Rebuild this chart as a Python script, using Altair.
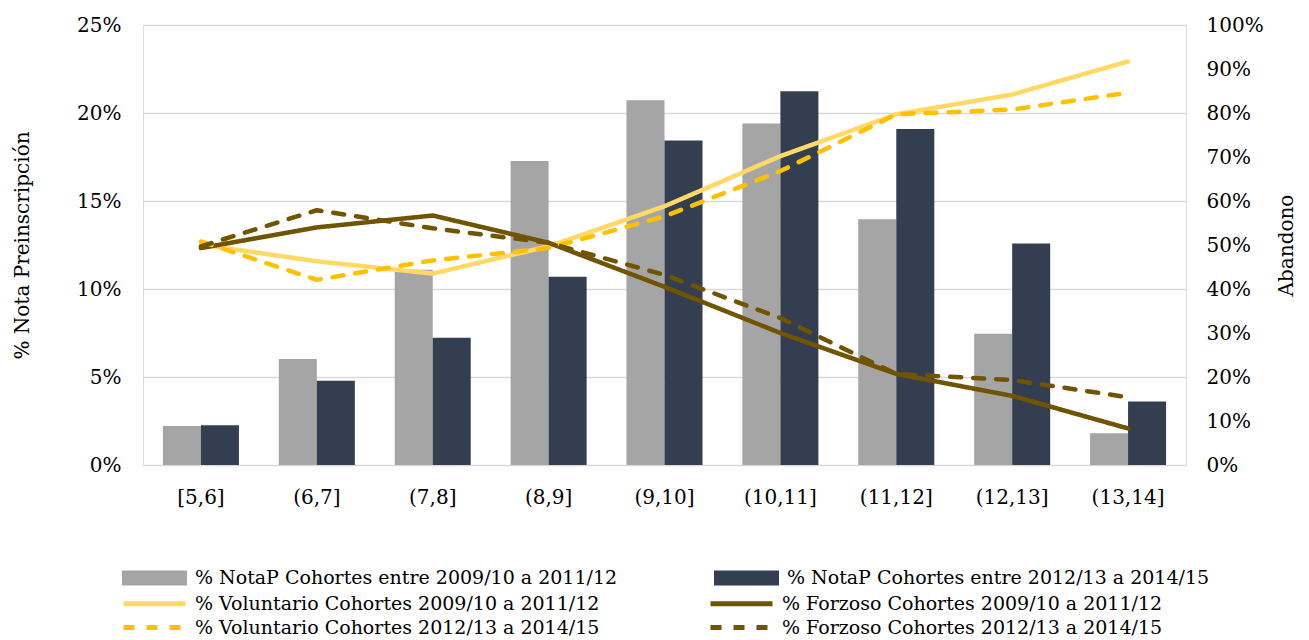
import altair as alt
import pandas as pd

categories = ["[5,6]", "(6,7]", "(7,8]", "(8,9]", "(9,10]", "(10,11]", "(11,12]", "(12,13]", "(13,14]"]
nota_0912 = [2.22, 6.02, 11.10, 17.27, 20.72, 19.41, 13.97, 7.46, 1.80]
nota_1215 = [2.26, 4.78, 7.23, 10.70, 18.44, 21.23, 19.09, 12.58, 3.61]
vol_0912 = [50.1, 46.3, 43.5, 49.7, 58.8, 70.2, 79.7, 84.2, 91.7]
forz_0912 = [49.3, 54.0, 56.7, 50.5, 40.5, 30.0, 20.7, 15.7, 8.3]
vol_1215 = [50.8, 42.1, 46.5, 49.3, 56.5, 66.8, 79.7, 80.8, 84.6]
forz_1215 = [49.7, 57.9, 53.8, 50.5, 43.2, 33.4, 20.7, 19.3, 15.4]

bar_names = ["% NotaP Cohortes entre 2009/10 a 2011/12", "% NotaP Cohortes entre 2012/13 a 2014/15"]
line_names = [
    "% Voluntario Cohortes 2009/10 a 2011/12",
    "% Forzoso Cohortes 2009/10 a 2011/12",
    "% Voluntario Cohortes 2012/13 a 2014/15",
    "% Forzoso Cohortes 2012/13 a 2014/15",
]
bar_colors = ["#A5A5A5", "#333F50"]
line_colors = ["#FFD966", "#705400", "#FFC000", "#705400"]
line_dashes = [[1, 0], [1, 0], [11, 12], [11, 12]]

bar_rows = []
for name, vals in zip(bar_names, [nota_0912, nota_1215]):
    for c, v in zip(categories, vals):
        bar_rows.append({"cat": c, "serie": name, "val": v / 100})
bars_df = pd.DataFrame(bar_rows)

line_rows = []
for name, vals in zip(line_names, [vol_0912, forz_0912, vol_1215, forz_1215]):
    for i, (c, v) in enumerate(zip(categories, vals)):
        line_rows.append({"cat": c, "idx": i, "serie": name, "val": v / 100})
lines_df = pd.DataFrame(line_rows)

FONT = "DejaVu Serif"
LFONT = "DejaVu Serif"

xscale = alt.Scale(domain=categories, paddingInner=0.344, paddingOuter=0.172)
xaxis = alt.Axis(title=None, labelFontSize=20, labelFont=FONT, labelColor="#000000",
                 ticks=False, domain=False, labelPadding=22, labelAngle=0)

bar_legend = alt.Legend(title=None, orient="none", legendX=1.5, legendY=543, columns=2, direction="horizontal",
                        columnPadding=96, symbolType="M-3.25,-0.75H3.25V0.75H-3.25Z", symbolSize=400,
                        symbolStrokeWidth=0, labelFont=LFONT, labelFontSize=19,
                        labelColor="#000000", labelOffset=30.5, labelLimit=600, padding=0)

line_legend = alt.Legend(title=None, orient="none", legendX=-1, legendY=566, columns=2, direction="horizontal",
                         columnPadding=100, rowPadding=1, symbolType="M-3.1,0H3.1", symbolSize=400,
                         symbolStrokeWidth=5, labelFont=LFONT, labelFontSize=19,
                         labelColor="#000000", labelOffset=28, labelLimit=600, padding=0)

bars = alt.Chart(bars_df).mark_bar().encode(
    x=alt.X("cat:N", scale=xscale, axis=xaxis, sort=categories),
    xOffset=alt.XOffset("serie:N", scale=alt.Scale(domain=bar_names, paddingInner=0, paddingOuter=0)),
    y=alt.Y("val:Q", scale=alt.Scale(domain=[0, 0.25]),
            axis=alt.Axis(title="% Nota Preinscripción", format=".0%", values=[0, 0.05, 0.10, 0.15, 0.20, 0.25],
                          labelFontSize=20, labelFont=FONT, labelColor="#000000", ticks=False, domain=False,
                          labelPadding=22, titleFontSize=20, titleFont=FONT, titleFontWeight="normal",
                          titleColor="#000000", titlePadding=44, grid=True, gridColor="#D9D9D9", gridWidth=1.5)),
    fill=alt.Fill("serie:N", scale=alt.Scale(domain=bar_names, range=bar_colors), legend=bar_legend),
)

lines = alt.Chart(lines_df).mark_line(strokeWidth=4.5, strokeCap="round", strokeJoin="round").encode(
    x=alt.X("cat:N", scale=xscale, axis=xaxis, sort=categories),
    y=alt.Y("val:Q", scale=alt.Scale(domain=[0, 1]),
            axis=alt.Axis(title="Abandono", orient="right", format=".0%", values=[i / 10 for i in range(11)],
                          labelFontSize=20, labelFont=FONT, labelColor="#000000", ticks=False, domain=False,
                          labelPadding=20, titleFontSize=20, titleFont=FONT, titleFontWeight="normal",
                          titleColor="#000000", titlePadding=33, titleAngle=270, grid=False)),
    stroke=alt.Stroke("serie:N", scale=alt.Scale(domain=line_names, range=line_colors), legend=line_legend),
    strokeDash=alt.StrokeDash("serie:N", scale=alt.Scale(domain=line_names, range=line_dashes), legend=line_legend),
    order=alt.Order("idx:Q"),
)

chart = alt.layer(bars, lines).resolve_scale(y="independent").properties(
    width=1043, height=440, padding={"left": 4, "top": 7, "right": 0, "bottom": 0}
).configure_view(stroke=None).configure(background="#FFFFFF")

chart.save("out.html", embed_options={"renderer": "svg", "actions": False})
